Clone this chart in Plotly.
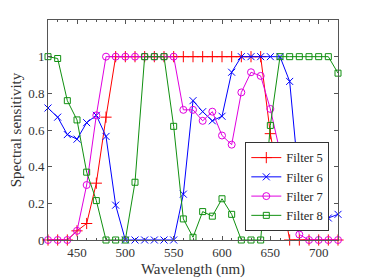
import plotly.graph_objects as go

wavelength = list(range(420, 730, 10))

filter5 = [0, 0, 0, 0.05, 0.09, 0.31, 0.67, 1, 1, 1, 1, 1, 1, 1, 1, 1, 1, 1, 1, 1, 1, 1, 1, 0.58, 0.30, 0, 0, 0, 0, 0, 0]
filter6 = [0.72, 0.67, 0.575, 0.55, 0.64, 0.68, 0.565, 0.19, 0, 0, 0, 0, 0, 0, 0.25, 0.76, 0.70, 0.65, 0.675, 0.915, 1, 1, 1, 1, 1, 0.865, 0.30, 0.10, 0.10, 0.12, 0.14]
filter7 = [0, 0, 0, 0.05, 0.30, 0.68, 1, 1, 1, 1, 1, 1, 1, 1, 0.71, 0.71, 0.65, 0.70, 0.57, 0.52, 0.805, 0.915, 0.895, 0.715, 0.48, 0.39, 0.03, 0, 0, 0, 0]
filter8 = [1, 0.99, 0.76, 0.655, 0.37, 0.215, 0, 0, 0, 0.315, 1, 1, 1, 0.62, 0.115, 0.015, 0.155, 0.13, 0.225, 0.14, 0, 0, 0, 0.625, 1, 1, 1, 1, 1, 1, 0.91]

series = [
    ("Filter 5", filter5, "#ff0000", "cross-thin-open", 8),
    ("Filter 6", filter6, "#0000ff", "x-thin-open", 7),
    ("Filter 7", filter7, "#e000e0", "circle-open", 7),
    ("Filter 8", filter8, "#109010", "square-open", 6),
]

fig = go.Figure()
for name, vals, col, sym, sz in series:
    fig.add_trace(go.Scatter(
        x=wavelength, y=vals, name=name, mode="lines+markers",
        line=dict(color=col, width=1),
        marker=dict(symbol=sym, size=sz, color=col, line=dict(color=col, width=1)),
        cliponaxis=False,
    ))

axis_col = "#555555"
font_fam = "Liberation Serif"
fig.update_layout(
    width=374, height=280,
    margin=dict(l=48, r=36, t=20, b=40, autoexpand=False),
    paper_bgcolor="white", plot_bgcolor="white",
    font=dict(family=font_fam, size=13, color="#333333"),
    showlegend=True,
    legend=dict(
        x=0.970, y=0.041, xanchor="right", yanchor="bottom",
        bgcolor="white", bordercolor="#333333", borderwidth=1,
        font=dict(size=12.5, family=font_fam, color="#262626"),
        tracegroupgap=0, itemwidth=30,
    ),
    xaxis=dict(
        range=[420, 720], tickvals=[450, 500, 550, 600, 650, 700],
        ticks="inside", ticklen=4, tickcolor=axis_col, tickwidth=1,
        minor=dict(dtick=10, tick0=420, ticks="inside", ticklen=2, tickcolor=axis_col),
        showline=True, linecolor=axis_col, linewidth=1, mirror="allticks",
        showgrid=False, zeroline=False, automargin=False,
        title=dict(text="Wavelength (nm)", font=dict(size=15, family=font_fam), standoff=4),
        tickfont=dict(size=13, family=font_fam),
    ),
    yaxis=dict(
        range=[0, 1.2], tickvals=[0, 0.2, 0.4, 0.6, 0.8, 1],
        ticktext=["0", "0.2", "0.4", "0.6", "0.8", "1"],
        ticks="inside", ticklen=4, tickcolor=axis_col, tickwidth=1,
        showline=True, linecolor=axis_col, linewidth=1, mirror="allticks",
        showgrid=False, zeroline=False, automargin=False,
        title=dict(text="Spectral sensitivity", font=dict(size=15, family=font_fam), standoff=2),
        tickfont=dict(size=13, family=font_fam),
    ),
)

fig.write_html("out.html", config={"displayModeBar": False},
               post_script="document.body.style.margin='0';")
